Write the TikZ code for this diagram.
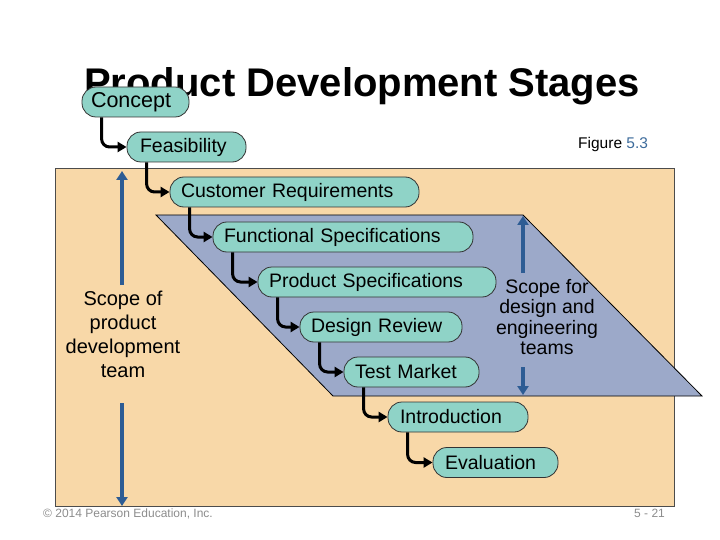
\documentclass[tikz,border=0pt]{standalone}
\usepackage{fontspec}
\setmainfont{Liberation Sans}
\usepackage{tikz}
\usetikzlibrary{arrows.meta}

\definecolor{sand}{HTML}{F8D8A8}
\definecolor{slate}{HTML}{9CA9C9}
\definecolor{aqua}{HTML}{8FD3C7}
\definecolor{navy}{HTML}{2D5C94}
\definecolor{figblue}{HTML}{3E6C9C}

\tikzset{
stage/.style={draw=black!80, fill=aqua, line width=0.8pt, rounded corners=14pt, minimum height=30pt, inner xsep=11pt, inner ysep=0pt, align=left, font=\fontsize{19.5}{22}\selectfont},
stepline/.style={line width=3pt, -{Triangle[length=9pt,width=10pt]}, rounded corners=8pt, to path={([xshift=20pt]\tikztostart.south west) |- (\tikztotarget.west)}},
scopearrow/.style={navy, line width=4.5pt, -{Triangle[length=9pt,width=11pt]}}
}

\begin{document}
\begin{tikzpicture}[x=1pt, y=-1pt]
\useasboundingbox (0,0) rectangle (720,540);

\filldraw[fill=sand, draw=black!70, line width=1pt] (55,169) rectangle (674,506);
\filldraw[fill=slate, draw=black, line width=0.8pt] (156,215) -- (523,215) -- (702,396) -- (333,396) -- cycle;

\coordinate (teamtop) at (122,171);
\coordinate (teamup) at (122,285);
\coordinate (teamdown) at (122,403);
\coordinate (teambot) at (122,506);
\coordinate (engtop) at (523,216);
\coordinate (engup) at (523,273);
\coordinate (engdown) at (523,367);
\coordinate (engbot) at (523,395);

\node[align=center, font=\fontsize{20}{24}\selectfont] (teamlbl) at (123,334) {Scope of\\product\\development\\team};
\node[align=center, font=\fontsize{19.5}{20.5}\selectfont] (englbl) at (547,317) {Scope for\\design and\\engineering\\teams};

\node[anchor=base west, inner sep=0pt, font=\fontsize{40}{44}\selectfont\bfseries] (title) at (84,97) {Product Development Stages};
\node[anchor=base west, inner sep=0pt, font=\fontsize{15.5}{18}\selectfont] (figno) at (578,149) {Figure \textcolor{figblue}{5.3}};
\node[anchor=base west, inner sep=0pt, text=black!45, font=\fontsize{12}{14}\selectfont] (copy) at (43,517) {\textcopyright{} 2014 Pearson Education, Inc.};
\node[anchor=base west, inner sep=0pt, text=black!45, font=\fontsize{12}{14}\selectfont] (page) at (634,517) {5 - 21};

\node[stage, text width=89pt, inner xsep=9pt, font=\fontsize{21.5}{24}\selectfont] (concept) at (135.5,102) {Concept};
\node[stage, text width=93pt, inner xsep=13pt] (feas) at (186.5,147) {Feasibility};
\node[stage, text width=227pt] (custreq) at (294.5,192) {Customer Requirements};
\node[stage, text width=238pt] (funcspec) at (343,237) {Functional Specifications};
\node[stage, text width=216pt] (prodspec) at (377,282) {Product Specifications};
\node[stage, text width=140pt] (review) at (381,327) {Design Review};
\node[stage, text width=113pt] (testmkt) at (411.5,372) {Test Market};
\node[stage, text width=116pt, inner xsep=12pt] (intro) at (458,417) {Introduction};
\node[stage, text width=101pt, inner xsep=12pt] (eval) at (495.5,462.5) {Evaluation};

\path[]
(teamup) edge[scopearrow] (teamtop)
(teamdown) edge[scopearrow] (teambot)
(engup) edge[scopearrow] (engtop)
(engdown) edge[scopearrow] (engbot)
(concept) edge[stepline] (feas)
(feas) edge[stepline] (custreq)
(custreq) edge[stepline] (funcspec)
(funcspec) edge[stepline] (prodspec)
(prodspec) edge[stepline] (review)
(review) edge[stepline] (testmkt)
(testmkt) edge[stepline] (intro)
(intro) edge[stepline] (eval)
;
\end{tikzpicture}
\end{document}
